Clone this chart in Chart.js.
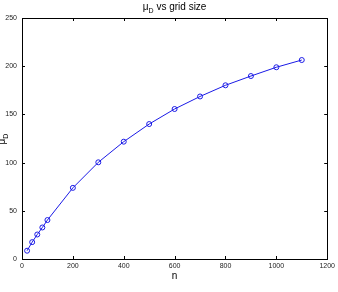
<!DOCTYPE html>
<html>
<head>
<meta charset="utf-8">
<script src="https://cdn.jsdelivr.net/npm/chart.js@4"></script>
<style>
  html, body { margin: 0; padding: 0; background: #fff; }
  #wrap { width: 338px; height: 292px; }
</style>
</head>
<body>
<div id="wrap"><canvas id="muChart" width="338" height="292"></canvas></div>
<script>
const gridSizes = [20, 40, 60, 80, 100, 200, 300, 400, 500, 600, 700, 800, 900, 1000, 1100];
const muD = [8.6, 17.5, 25.4, 32.7, 40.4, 73.8, 100.3, 121.7, 140, 155.6, 168.6, 180.2, 189.8, 198.9, 206.4];
const xTicks = [0, 200, 400, 600, 800, 1000, 1200];
const yTicks = [0, 50, 100, 150, 200, 250];

const FONT = '"Liberation Sans", Arial, Helvetica, sans-serif';

// matlab style: box, inward ticks, subscript labels
const matlabBox = {
    id: 'matlabBox',
    afterDraw(chart) {
        const c = chart.ctx;
        const a = chart.chartArea;
        const xs = chart.scales.x, ys = chart.scales.y;
        c.save();
        c.strokeStyle = '#000';
        c.lineWidth = 1;
        c.strokeRect(Math.round(a.left) + 0.5, Math.round(a.top) + 0.5,
            Math.round(a.right - a.left), Math.round(a.bottom - a.top));
        c.beginPath();
        xTicks.forEach(v => {
            const px = Math.round(xs.getPixelForValue(v)) + 0.5;
            c.moveTo(px, a.bottom); c.lineTo(px, a.bottom - 3);
            c.moveTo(px, a.top); c.lineTo(px, a.top + 3);
        });
        yTicks.forEach(v => {
            const py = Math.round(ys.getPixelForValue(v)) + 0.5;
            c.moveTo(a.left, py); c.lineTo(a.left + 3, py);
            c.moveTo(a.right, py); c.lineTo(a.right - 3, py);
        });
        c.stroke();

        c.fillStyle = '#000';
        // title
        const cx = (a.left + a.right) / 2;
        c.font = '10px ' + FONT;
        const w1 = c.measureText('\u03bc').width;
        const rest = ' vs grid size';
        const w3 = c.measureText(rest).width;
        c.font = '7px ' + FONT;
        const w2 = c.measureText('D').width;
        let x0 = cx - (w1 + w2 + w3) / 2;
        c.textBaseline = 'alphabetic';
        c.textAlign = 'left';
        c.font = '10px ' + FONT;
        c.fillText('\u03bc', x0, 10);
        c.font = '7px ' + FONT;
        c.fillText('D', x0 + w1, 13);
        c.font = '10px ' + FONT;
        c.fillText(rest, x0 + w1 + w2, 10);

        // x label
        c.textAlign = 'center';
        c.fillText('n', cx, 279);

        // y label (rotated, partly off canvas)
        c.translate(5, (a.top + a.bottom) / 2);
        c.rotate(-Math.PI / 2);
        c.textAlign = 'left';
        c.font = '10px ' + FONT;
        c.fillText('\u03bc', -6, 0);
        c.font = '7px ' + FONT;
        c.fillText('D', -6 + w1, 3);
        c.restore();
    }
};

const ctx = document.getElementById('muChart').getContext('2d');
const muChart = new Chart(ctx, {
    type: 'line',
    data: {
        datasets: [{
            label: 'muD',
            data: gridSizes.map((n, i) => ({ x: n, y: muD[i] })),
            borderColor: '#1a1ae6',
            borderWidth: 1,
            backgroundColor: 'rgba(0,0,0,0)',
            pointRadius: 2.5,
            pointBorderWidth: 1,
            pointBorderColor: '#1a1ae6',
            pointBackgroundColor: 'rgba(0,0,0,0)',
            tension: 0,
            fill: false
        }]
    },
    options: {
        responsive: false,
        animation: false,
        events: [],
        layout: { padding: { top: 18, right: 10, left: 0, bottom: 0 } },
        plugins: {
            legend: { display: false },
            title: { display: false },
            tooltip: { enabled: false }
        },
        scales: {
            x: {
                type: 'linear',
                min: 0, max: 1200,
                afterBuildTicks: s => { s.ticks = xTicks.map(v => ({ value: v })); },
                afterFit: s => { s.height = 33; },
                grid: { display: false, drawTicks: false },
                border: { display: false },
                ticks: {
                    color: '#222', font: { size: 7, family: FONT }, padding: 3, maxRotation: 0,
                    callback: v => String(v)
                }
            },
            y: {
                min: 0, max: 250,
                afterBuildTicks: s => { s.ticks = yTicks.map(v => ({ value: v })); },
                afterFit: s => { s.width = 22; },
                grid: { display: false, drawTicks: false },
                border: { display: false },
                ticks: { color: '#222', font: { size: 7, family: FONT }, padding: 5, callback: v => String(v) }
            }
        }
    },
    plugins: [matlabBox]
});
</script>
</body>
</html>
